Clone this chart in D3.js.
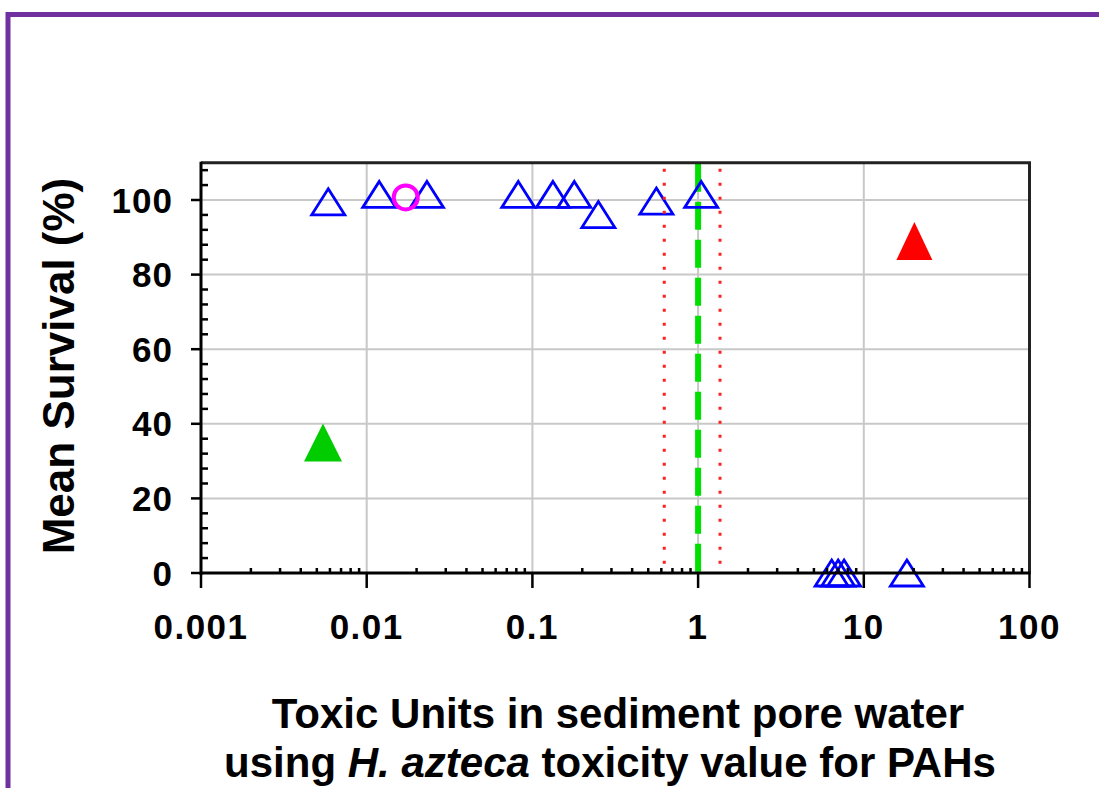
<!DOCTYPE html>
<html>
<head>
<meta charset="utf-8">
<script src="https://cdn.jsdelivr.net/npm/d3@7"></script>
<style>
  html, body { margin: 0; padding: 0; background: #fff; }
  svg { display: block; }
  text { font-family: "Liberation Sans", Arial, sans-serif; font-weight: bold; fill: #000; }
</style>
</head>
<body>
<svg id="chart" width="1099" height="788"></svg>
<script>
// Toxic units (x) and mean survival % (y) for the sediment samples
const sampleTU       = [0.00586, 0.0119, 0.0231, 0.0822, 0.133, 0.179, 0.250, 0.560, 1.044, 6.4, 7.0, 7.6, 18.2];
const sampleSurvival = [99.5, 101.5, 101.5, 101.5, 101.5, 101.5, 96.1, 99.7, 101.5, 0, 0, 0, 0];

// Single highlighted samples
const circleTU = [0.0172];
const circleSurvival = [100.7];
const redTU = [20.2];
const redSurvival = [89];
const greenTU = [0.00545];
const greenSurvival = [35];

// Effect threshold (1 TU) and its bounds
const thresholdTU = [1.0];
const boundTU = [0.625, 1.356];

// Axis ticks
const xTickValues = [0.001, 0.01, 0.1, 1, 10, 100];
const xTickLabels = ["0.001", "0.01", "0.1", "1", "10", "100"];
const yTickValues = [0, 20, 40, 60, 80, 100];

const svg = d3.select("#chart");

// Outer frame
svg.append("rect")
  .attr("x", 8).attr("y", 14.5)
  .attr("width", 1200).attr("height", 1000)
  .attr("fill", "none").attr("stroke", "#7030a0").attr("stroke-width", 5);

const x = d3.scaleLog().domain([0.001, 100]).range([201, 1029.5]);
const y = d3.scaleLinear().domain([0, 110]).range([573, 162.7]);

const [x0, x1] = x.range();
const [y0, y1] = y.range();

// Gridlines
const grid = svg.append("g").attr("stroke", "#c8c8c8").attr("stroke-width", 2);
grid.selectAll("line.h").data(yTickValues.filter(v => v > 0)).join("line")
  .attr("x1", x0).attr("x2", x1).attr("y1", d => y(d)).attr("y2", d => y(d));
grid.selectAll("line.v").data(xTickValues.slice(1, -1)).join("line")
  .attr("y1", y0).attr("y2", y1).attr("x1", d => x(d)).attr("x2", d => x(d));

// Threshold line at 1 TU
svg.append("g").selectAll("line").data(thresholdTU).join("line")
  .attr("x1", d => x(d)).attr("x2", d => x(d))
  .attr("y1", y1 + 1).attr("y2", y0)
  .attr("stroke", "#00e000").attr("stroke-width", 6)
  .attr("stroke-dasharray", "28,10");

// Plot border (top and right)
svg.append("path")
  .attr("d", `M${x0},${y1}H${x1}V${y0}`)
  .attr("fill", "none").attr("stroke", "#222").attr("stroke-width", 3);

// Markers
const triPath = (w, h) => `M0,${-h / 2}L${w / 2},${h / 2}L${-w / 2},${h / 2}Z`;
const samples = sampleTU.map((t, i) => ({ t, s: sampleSurvival[i] }));

svg.append("g").selectAll("path").data(samples).join("path")
  .attr("transform", d => `translate(${x(d.t)},${y(d.s)})`)
  .attr("d", triPath(33, 26))
  .attr("fill", "none").attr("stroke", "#0000ff").attr("stroke-width", 2.8)
  .attr("stroke-linejoin", "miter");

svg.append("g").selectAll("circle").data(circleTU.map((t, i) => ({ t, s: circleSurvival[i] }))).join("circle")
  .attr("cx", d => x(d.t)).attr("cy", d => y(d.s)).attr("r", 12)
  .attr("fill", "none").attr("stroke", "#ff00ff").attr("stroke-width", 4);

svg.append("g").selectAll("path").data(redTU.map((t, i) => ({ t, s: redSurvival[i] }))).join("path")
  .attr("transform", d => `translate(${x(d.t)},${y(d.s)})`)
  .attr("d", triPath(36, 38)).attr("fill", "#ff0000");

svg.append("g").selectAll("path").data(greenTU.map((t, i) => ({ t, s: greenSurvival[i] }))).join("path")
  .attr("transform", d => `translate(${x(d.t)},${y(d.s)})`)
  .attr("d", triPath(38, 38)).attr("fill", "#00cc00");

// Bounds around the threshold
svg.append("g").selectAll("line").data(boundTU).join("line")
  .attr("x1", d => x(d)).attr("x2", d => x(d))
  .attr("y1", y1 + 6).attr("y2", y0)
  .attr("stroke", "#ff2020").attr("stroke-width", 3)
  .attr("stroke-dasharray", "3,11");

// Y axis
const yMinor = d3.range(0, 110, 4).filter(v => v % 20 !== 0);
const yAxis = svg.append("g").attr("stroke", "#000").attr("stroke-width", 2.5);
yAxis.selectAll("line.minor").data(yMinor).join("line")
  .attr("x1", x0).attr("x2", x0 + 7).attr("y1", d => y(d)).attr("y2", d => y(d));
yAxis.selectAll("line.major").data(yTickValues).join("line")
  .attr("x1", x0 - 10).attr("x2", x0).attr("y1", d => y(d)).attr("y2", d => y(d));
yAxis.append("line").attr("x1", x0).attr("x2", x0).attr("y1", y1 - 1).attr("y2", y0 + 2).attr("stroke-width", 3);

svg.append("g").selectAll("text").data(yTickValues).join("text")
  .attr("x", 173).attr("y", d => y(d)).attr("dy", "0.36em")
  .attr("text-anchor", "end").attr("font-size", 35).attr("letter-spacing", 1)
  .text(d => d);

// X axis
const xMinor = [];
xTickValues.slice(0, -1).forEach(d => { for (let k = 2; k <= 9; k++) xMinor.push(d * k); });
const xAxis = svg.append("g").attr("stroke", "#000").attr("stroke-width", 2.5);
xAxis.selectAll("line.minor").data(xMinor).join("line")
  .attr("x1", d => x(d)).attr("x2", d => x(d)).attr("y1", y0).attr("y2", y0 - 5);
xAxis.selectAll("line.major").data(xTickValues).join("line")
  .attr("x1", d => x(d)).attr("x2", d => x(d)).attr("y1", y0).attr("y2", y0 + 15);
xAxis.append("line").attr("x1", x0 - 1).attr("x2", x1 + 1).attr("y1", y0).attr("y2", y0).attr("stroke-width", 3);

svg.append("g").selectAll("text").data(xTickValues).join("text")
  .attr("x", d => x(d)).attr("y", 639)
  .attr("text-anchor", "middle").attr("font-size", 35).attr("letter-spacing", 1.5)
  .text((d, i) => xTickLabels[i]);

// Axis titles
svg.append("text")
  .attr("transform", "translate(74,366) rotate(-90)")
  .attr("text-anchor", "middle").attr("font-size", 44)
  .text("Mean Survival (%)");

svg.append("text")
  .attr("x", 618).attr("y", 728)
  .attr("text-anchor", "middle").attr("font-size", 42)
  .text("Toxic Units in sediment pore water");

const t2 = svg.append("text")
  .attr("x", 610).attr("y", 777)
  .attr("text-anchor", "middle").attr("font-size", 42);
t2.append("tspan").text("using ");
t2.append("tspan").attr("font-style", "italic").text("H. azteca");
t2.append("tspan").text(" toxicity value for PAHs");
</script>
</body>
</html>
